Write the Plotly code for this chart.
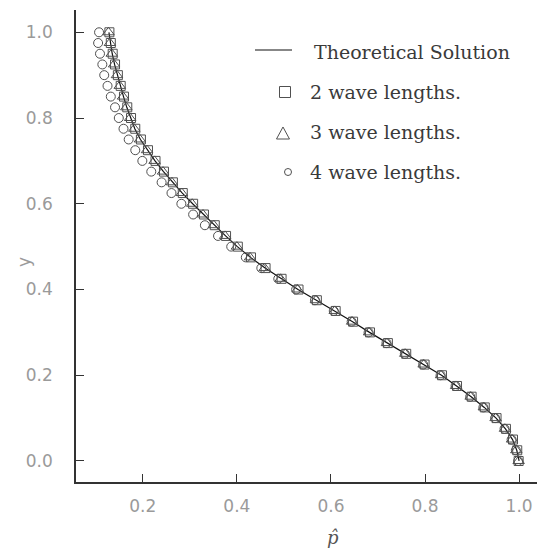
import plotly.graph_objects as go

# Vertical positions of the sample points
y_vals = [1.000, 0.975, 0.950, 0.925, 0.900, 0.875, 0.850, 0.825, 0.800, 0.775,
          0.750, 0.725, 0.700, 0.675, 0.650, 0.625, 0.600, 0.575, 0.550, 0.525,
          0.500, 0.475, 0.450, 0.425, 0.400, 0.375, 0.350, 0.325, 0.300, 0.275,
          0.250, 0.225, 0.200, 0.175, 0.150, 0.125, 0.100, 0.075, 0.050, 0.025,
          0.000]

# Theoretical solution
p_theory = [0.128, 0.131, 0.135, 0.140, 0.146, 0.152, 0.159, 0.166, 0.174, 0.183,
            0.195, 0.210, 0.226, 0.244, 0.263, 0.284, 0.306, 0.329, 0.352, 0.376,
            0.401, 0.429, 0.460, 0.494, 0.530, 0.569, 0.609, 0.646, 0.682, 0.720,
            0.759, 0.798, 0.835, 0.867, 0.898, 0.926, 0.951, 0.971, 0.986, 0.995,
            1.000]

# Numerical results, 2 wave lengths
p_two = [0.129, 0.132, 0.136, 0.141, 0.147, 0.153, 0.160, 0.167, 0.175, 0.184,
         0.196, 0.211, 0.227, 0.245, 0.264, 0.285, 0.307, 0.330, 0.353, 0.377,
         0.402, 0.430, 0.461, 0.495, 0.531, 0.570, 0.610, 0.647, 0.683, 0.721,
         0.760, 0.799, 0.836, 0.868, 0.899, 0.927, 0.952, 0.972, 0.987, 0.996,
         0.999]

# Numerical results, 3 wave lengths
p_three = [0.127, 0.130, 0.134, 0.139, 0.145, 0.151, 0.158, 0.165, 0.173, 0.182,
           0.194, 0.209, 0.225, 0.243, 0.262, 0.283, 0.305, 0.328, 0.351, 0.375,
           0.400, 0.428, 0.459, 0.493, 0.529, 0.568, 0.608, 0.645, 0.681, 0.719,
           0.758, 0.797, 0.834, 0.866, 0.897, 0.925, 0.950, 0.970, 0.985, 0.994,
           0.999]

# Numerical results, 4 wave lengths
p_four = [0.107, 0.105, 0.109, 0.114, 0.118, 0.125, 0.132, 0.141, 0.149, 0.159,
          0.170, 0.184, 0.199, 0.218, 0.240, 0.261, 0.282, 0.307, 0.332, 0.360,
          0.388, 0.419, 0.452, 0.488, 0.526, 0.566, 0.606, 0.644, 0.680, 0.718,
          0.757, 0.796, 0.833, 0.865, 0.896, 0.924, 0.949, 0.969, 0.984, 0.993,
          0.998]

x_ticks = [0.2, 0.4, 0.6, 0.8, 1.0]
y_ticks = [0.0, 0.2, 0.4, 0.6, 0.8, 1.0]
legend_labels = ["Theoretical Solution", "2 wave lengths.",
                 "3 wave lengths.", "4 wave lengths."]

W, H = 537, 553
M_L, M_R, M_T, M_B = 76, 0, 10, 71
PW, PH = W - M_L - M_R, H - M_T - M_B

mark_col = "#505050"
text_col = "#3a3a3a"
tick_col = "#9a9a9a"


def fx(px):
    """page x pixel -> paper fraction"""
    return (px - M_L) / PW


def fy(py):
    """page y pixel -> paper fraction"""
    return (H - M_B - py) / PH


fig = go.Figure()
fig.add_trace(go.Scatter(
    x=p_theory, y=y_vals, mode="lines", name=legend_labels[0],
    line=dict(color="#111111", width=1.2)))
fig.add_trace(go.Scatter(
    x=p_two, y=y_vals, mode="markers", name=legend_labels[1],
    marker=dict(symbol="square-open", size=9, color=mark_col,
                line=dict(width=1, color=mark_col))))
fig.add_trace(go.Scatter(
    x=p_three, y=y_vals, mode="markers", name=legend_labels[2],
    marker=dict(symbol="triangle-up-open", size=10, color=mark_col,
                line=dict(width=1, color=mark_col))))
fig.add_trace(go.Scatter(
    x=p_four, y=y_vals, mode="markers", name=legend_labels[3],
    marker=dict(symbol="circle-open", size=9, color=mark_col,
                line=dict(width=1, color=mark_col))))

axis_common = dict(
    showgrid=False, zeroline=False, showline=True, linecolor="#333333",
    linewidth=1.5, ticks="inside", ticklen=8, tickcolor="#333333",
    tickwidth=1, mirror=False,
    tickfont=dict(family="DejaVu Sans", size=17, color=tick_col),
)

# Hand-drawn legend: key symbols as shapes, labels as annotations
legend_rows = [52, 92, 132, 172]
shapes = [
    dict(type="line", xref="paper", yref="paper",
         x0=fx(255), x1=fx(292), y0=fy(50), y1=fy(50),
         line=dict(color="#111111", width=1.2)),
    dict(type="rect", xref="paper", yref="paper",
         x0=fx(279.5), x1=fx(290.5), y0=fy(97.5), y1=fy(86.5),
         line=dict(color=mark_col, width=1)),
    dict(type="path", xref="paper", yref="paper",
         path="M {:.5f} {:.5f} L {:.5f} {:.5f} L {:.5f} {:.5f} Z".format(
             fx(276.5), fy(139), fx(289.5), fy(139), fx(283), fy(127)),
         line=dict(color=mark_col, width=1)),
    dict(type="circle", xref="paper", yref="paper",
         x0=fx(284.5), x1=fx(291.5), y0=fy(175.5), y1=fy(168.5),
         line=dict(color=mark_col, width=1)),
]
annotations = []
text_left = [312, 308, 308, 308]
for lab, row, left in zip(legend_labels, legend_rows, text_left):
    annotations.append(dict(
        text=lab, xref="paper", yref="paper", x=fx(left), y=fy(row),
        xanchor="left", yanchor="middle", showarrow=False,
        font=dict(family="DejaVu Serif", size=19, color=text_col)))

# Axis titles
annotations.append(dict(
    text="<i>p\u0302</i>", xref="paper", yref="paper", x=fx(333), y=fy(537),
    xanchor="center", yanchor="middle", showarrow=False,
    font=dict(family="DejaVu Serif", size=18, color="#555555")))
annotations.append(dict(
    text="y", xref="paper", yref="paper", x=fx(24), y=fy(262),
    xanchor="center", yanchor="middle", showarrow=False, textangle=-90,
    font=dict(family="DejaVu Sans", size=17, color=tick_col)))

fig.update_layout(
    width=W, height=H,
    margin=dict(l=M_L, r=M_R, t=M_T, b=M_B),
    paper_bgcolor="white", plot_bgcolor="white",
    xaxis=dict(range=[0.058, 1.038], tickvals=x_ticks,
               ticktext=["0.2", "0.4", "0.6", "0.8", "1.0"],
               ticklabelstandoff=8, **axis_common),
    yaxis=dict(range=[-0.049, 1.052], tickvals=y_ticks,
               ticktext=["0.0", "0.2", "0.4", "0.6", "0.8", "1.0"],
               ticklabelstandoff=18, **axis_common),
    shapes=shapes,
    annotations=annotations,
    showlegend=False,
)

fig.write_html("out.html")
